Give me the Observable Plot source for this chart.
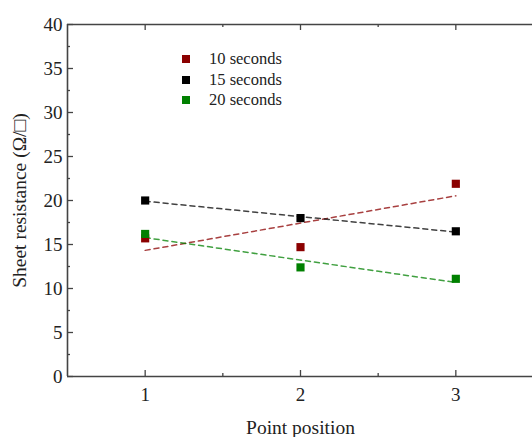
<!DOCTYPE html>
<html>
<head>
<meta charset="utf-8">
<script src="https://cdn.jsdelivr.net/npm/d3@7"></script>
<script src="https://cdn.jsdelivr.net/npm/@observablehq/plot@0.6"></script>
<style>
  html, body { margin: 0; padding: 0; background: #fff; }
  #wrap { position: relative; width: 532px; height: 437px; overflow: hidden; }
  #legend { position: absolute; left: 182px; top: 49px; font-family: "Liberation Serif", serif; font-size: 16.5px; color: #222; }
  #legend .row { height: 20.5px; line-height: 20.5px; white-space: nowrap; }
  #legend .sw { display: inline-block; width: 8px; height: 8px; margin-right: 19px; vertical-align: middle; position: relative; top: -1px; }
</style>
</head>
<body>
<div id="wrap"><div id="legend"></div></div>
<script>
// ---- data ----
const positions = [1, 2, 3];
const seriesNames = ["10 seconds", "15 seconds", "20 seconds"];
const seriesColors = ["#8b0000", "#000000", "#008000"];
const s10 = [15.7, 14.7, 21.9];
const s15 = [20.0, 18.0, 16.5];
const s20 = [16.2, 12.4, 11.1];
const seriesValues = [s10, s15, s20];
const xDomain = [0.5, 3.5];
const yDomain = [0, 40];
const xMajor = [1, 2, 3];
const xMinor = [1.5, 2.5];
const yMajor = d3.range(0, 41, 5);
const yMinor = d3.range(2.5, 40, 5);

const rows = seriesNames.flatMap((name, i) =>
  positions.map((p, j) => ({series: name, x: p, y: seriesValues[i][j]})));

const width = 532, height = 437;
const mL = 67, mR = -1, mT = 24, mB = 61;
const W = width - mL - mR, H = height - mT - mB;
const axisColor = "#444";
const major = 6, minor = 3;

const colorScale = {domain: seriesNames, range: seriesColors};

const chart = Plot.plot({
  width, height,
  marginLeft: mL, marginRight: mR, marginTop: mT, marginBottom: mB,
  style: {fontFamily: "Liberation Serif, serif", fontSize: "19px", color: "#222", background: "transparent"},
  x: {domain: xDomain},
  y: {domain: yDomain},
  color: colorScale,
  marks: [
    Plot.axisY(yMajor, {tickSize: 0, tickPadding: 5, label: null, fontSize: 19}),
    Plot.axisY({label: "Sheet resistance (Ω/□)", ticks: [], tickSize: 0, labelAnchor: "center", labelArrow: "none", labelOffset: 55, fontSize: 19.5}),
    Plot.axisX(xMajor, {tickSize: 0, tickPadding: 11, tickFormat: d => d, label: null, fontSize: 19}),
    Plot.axisX({label: "Point position", ticks: [], tickSize: 0, labelAnchor: "center", labelArrow: "none", labelOffset: 57, fontSize: 19.5}),
    // inward ticks
    Plot.tickY(yMajor, {y: d => d, insetRight: W - major, stroke: axisColor, strokeWidth: 1.3}),
    Plot.tickY(yMinor, {y: d => d, insetRight: W - minor, stroke: axisColor, strokeWidth: 1.3}),
    Plot.tickX(xMajor, {x: d => d, insetTop: H - major, stroke: axisColor, strokeWidth: 1.3}),
    Plot.tickX(xMinor, {x: d => d, insetTop: H - minor, stroke: axisColor, strokeWidth: 1.3}),
    Plot.tickX(xMajor, {x: d => d, insetBottom: H - major, stroke: axisColor, strokeWidth: 1.3}),
    Plot.tickX(xMinor, {x: d => d, insetBottom: H - minor, stroke: axisColor, strokeWidth: 1.3}),
    // axis lines
    Plot.ruleX([xDomain[0]], {stroke: axisColor, strokeWidth: 1.6}),
    Plot.ruleY(yDomain, {stroke: axisColor, strokeWidth: 1.6}),
    // fit lines
    Plot.linearRegressionY(rows, {x: "x", y: "y", stroke: "series", ci: 0, strokeWidth: 1.5, strokeDasharray: "5,4", strokeOpacity: 0.75}),
    // points
    Plot.dot(rows, {x: "x", y: "y", fill: "series", symbol: "square", r: 4.6})
  ]
});
document.getElementById("wrap").prepend(chart);

const legend = document.getElementById("legend");
seriesNames.forEach((name, i) => {
  const row = document.createElement("div");
  row.className = "row";
  const sw = document.createElement("span");
  sw.className = "sw";
  sw.style.background = seriesColors[i];
  row.appendChild(sw);
  row.appendChild(document.createTextNode(name));
  legend.appendChild(row);
});
</script>
</body>
</html>
